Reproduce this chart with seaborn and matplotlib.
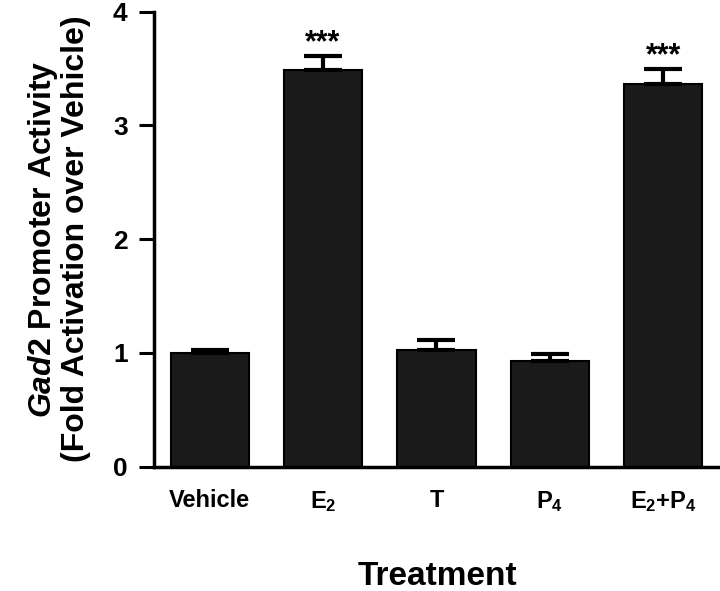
import numpy as np
import pandas as pd
import matplotlib
matplotlib.use('Agg')
import matplotlib.pyplot as plt
import seaborn as sns

treatments = ['Vehicle', 'E$_2$', 'T', 'P$_4$', 'E$_2$+P$_4$']
fold_activation = [1.00, 3.49, 1.03, 0.93, 3.36]
sem = [0.03, 0.12, 0.08, 0.06, 0.14]
stars = ['', '***', '', '', '***']

sns.set_style('ticks')
plt.rcParams['font.family'] = ['Liberation Sans', 'DejaVu Sans']
plt.rcParams['font.weight'] = 'bold'
plt.rcParams['mathtext.fontset'] = 'custom'
plt.rcParams['mathtext.rm'] = 'Liberation Sans:bold'
plt.rcParams['mathtext.bf'] = 'Liberation Sans:bold'
plt.rcParams['mathtext.it'] = 'Liberation Sans:italic:bold'
for k in ['text.color', 'axes.labelcolor', 'xtick.color', 'ytick.color', 'axes.edgecolor']:
    plt.rcParams[k] = 'black'

df = pd.DataFrame({'Treatment': treatments, 'Activity': fold_activation})

fig = plt.figure(figsize=(7.2, 5.91), dpi=100)
ax = fig.add_axes([0.214, 0.2103, 0.786, 0.770])

sns.barplot(data=df, x='Treatment', y='Activity', color='#1a1a1a',
            edgecolor='black', linewidth=1.5, width=0.69, saturation=1, ax=ax)

xs = np.arange(len(treatments))
ax.errorbar(xs, fold_activation, yerr=[np.zeros(len(sem)), sem], fmt='none',
            ecolor='black', elinewidth=3, capsize=14, capthick=3, zorder=1)

for x, v, e, s in zip(xs, fold_activation, sem, stars):
    if s:
        ax.text(x, v + e - 0.02, s, ha='center', va='bottom', fontsize=22, fontweight='bold')

ax.set_xlim(-0.49, 4.5)
ax.set_ylim(0, 4)
ax.set_yticks([0, 1, 2, 3, 4])
ax.set_yticklabels(['0', '1', '2', '3', '4'], fontsize=19, fontweight='bold')
ax.tick_params(axis='y', length=11, width=2.2, pad=8)
ax.tick_params(axis='x', length=0, labelsize=17, pad=16)
for lab in ax.get_xticklabels():
    lab.set_fontweight('bold')

sns.despine(ax=ax)
ax.spines['left'].set_linewidth(2.5)
ax.spines['bottom'].set_linewidth(2.5)

ax.set_xlabel('Treatment', fontsize=24, fontweight='bold', labelpad=34)
ax.set_ylabel('$\\it{Gad2}$ Promoter Activity\n(Fold Activation over Vehicle)',
              fontsize=23, fontweight='bold', labelpad=16, linespacing=1.05)

fig.savefig('out.png', dpi=100)
